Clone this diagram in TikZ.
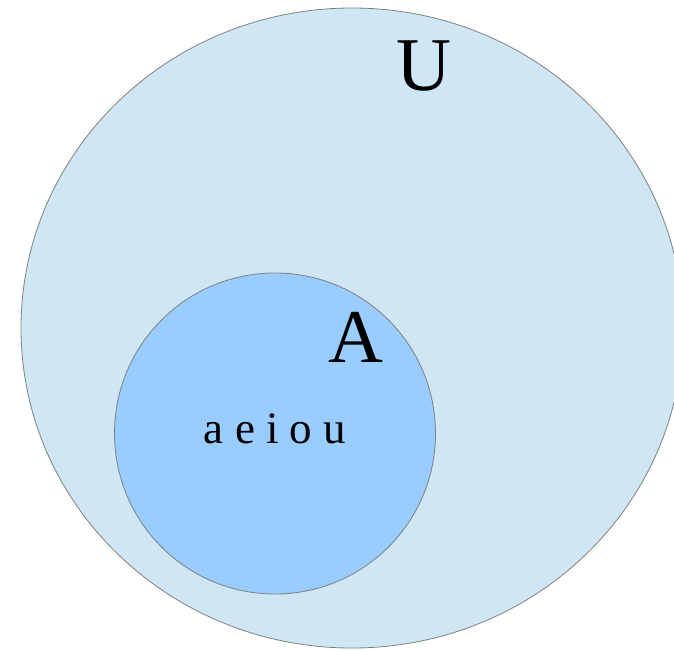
\documentclass[tikz,border=0pt]{standalone}
\usepackage{fontspec}
\setmainfont{Liberation Serif}
\usepackage{xcolor}
\definecolor{univfill}{RGB}{207,230,244}
\definecolor{setfill}{RGB}{153,204,255}
\definecolor{rimgray}{RGB}{128,128,128}

\begin{document}
\begin{tikzpicture}[x=1pt,y=-1pt,
    rim/.style={draw=rimgray,line width=0.8pt},
    bigletter/.style={font=\fontsize{76}{76}\selectfont,inner sep=0pt},
    elements/.style={font=\fontsize{45}{45}\selectfont,inner sep=0pt}]
    \useasboundingbox (0,0) rectangle (674,649);
    \clip (0,0) rectangle (674,649);
    % universe and the set A
    \filldraw[rim,fill=univfill] (352,328) ellipse [x radius=331,y radius=320];
    \filldraw[rim,fill=setfill] (275,433.5) circle [radius=160.5];
    % labels
    \node[bigletter,anchor=base] (lblU) at (424,90) {U};
    \node[bigletter,anchor=base] (lblA) at (356,362) {A};
    \node[elements,anchor=base] (vowels) at (275,443) {a e i o u};
\end{tikzpicture}
\end{document}
